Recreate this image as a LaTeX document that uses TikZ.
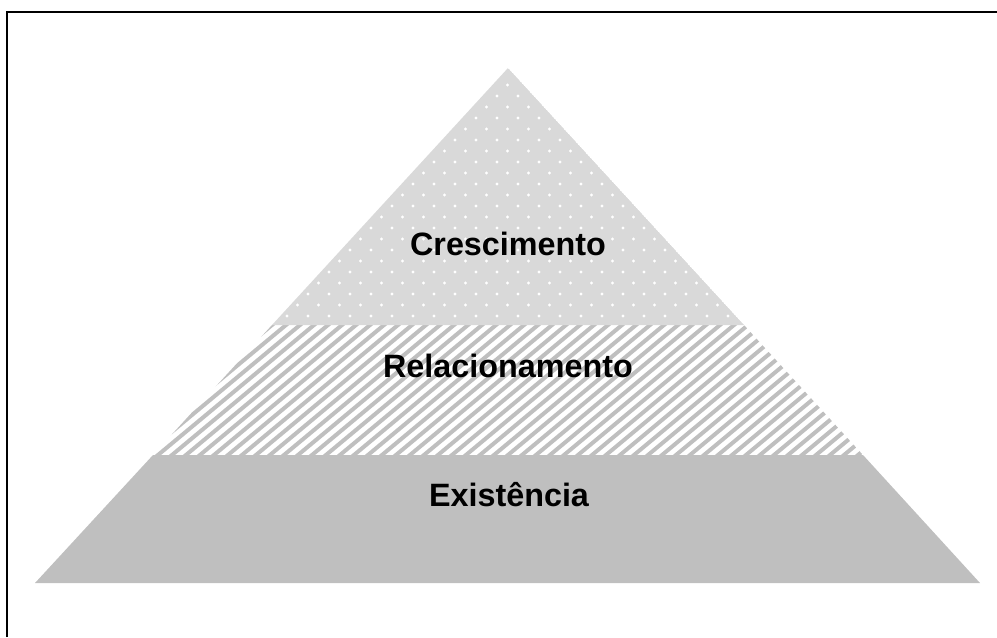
\documentclass[tikz,border=0pt]{standalone}
\usepackage{fontspec}
\setmainfont{Liberation Sans}
\begin{document}
\begin{tikzpicture}[x=0.02cm,y=-0.02cm,inner sep=0pt,outer sep=0pt,
layertext/.style={anchor=base,font=\fontsize{18.4}{22}\selectfont\bfseries},
stripe/.style={draw=gray!50,line width=0.08cm},
dot/.style={fill=white}]
\useasboundingbox (0,0) rectangle (997,637);
\coordinate (top) at (508,68);
\coordinate (bl) at (35,583);
\coordinate (br) at (980,583);
\coordinate (ml) at (272,325);
\coordinate (mr) at (744,325);
\coordinate (ll) at (153,455);
\coordinate (lr) at (863,455);
% frame
\draw[line width=0.05cm] (7,637) -- (7,12) -- (997,12);
% bottom layer
\fill[gray!50] (ll) -- (lr) -- (br) -- (bl) -- cycle;
% middle layer
\begin{scope}
\clip (ml) -- (mr) -- (lr) -- (ll) -- cycle;
\foreach \x in {-30,-16,...,880}
  \draw[stripe] (\x,460) -- ++(168,-140);
\end{scope}
% top layer
\begin{scope}
\clip (top) -- (mr) -- (ml) -- cycle;
\fill[gray!30] (top) -- (mr) -- (ml) -- cycle;
\foreach \y in {74,96,...,330}
  \foreach \x in {266,287,...,760}
    \fill[dot] (\x,\y) circle[radius=0.9pt];
\foreach \y in {85,107,...,330}
  \foreach \x in {276.5,297.5,...,760}
    \fill[dot] (\x,\y) circle[radius=0.9pt];
\end{scope}
\draw (508,255) node[layertext] (cres) {Crescimento};
\draw (508,377) node[layertext] (rel) {Relacionamento};
\draw (509,506) node[layertext] (exi) {Existência};
\end{tikzpicture}
\end{document}
